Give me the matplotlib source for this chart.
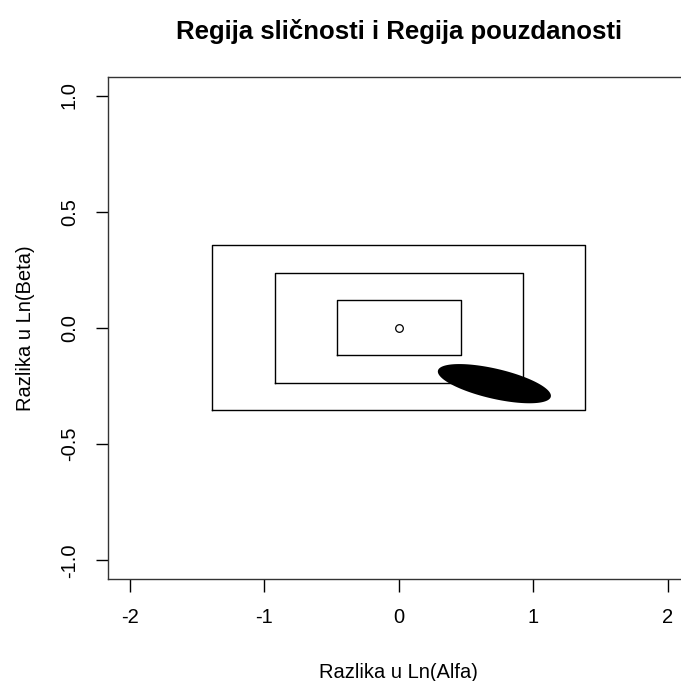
import numpy as np
import matplotlib
matplotlib.use("Agg")
import matplotlib.pyplot as plt

plt.rcParams["font.family"] = ["Liberation Sans", "DejaVu Sans"]

# rectangle half-widths (Ln(Alfa)) and half-heights (Ln(Beta))
rect_dx = [0.462, 0.923, 1.386]
rect_dy = [0.118, 0.236, 0.355]

# confidence ellipse: center, sd and correlation
ell_cx, ell_cy = 0.710, -0.240
ell_sx, ell_sy = 0.420, 0.0844
ell_r = -0.62

xticks = [-2, -1, 0, 1, 2]
yticks = [-1.0, -0.5, 0.0, 0.5, 1.0]
ytick_labels = ["-1.0", "-0.5", "0.0", "0.5", "1.0"]

fig = plt.figure(figsize=(6.81, 6.81), dpi=100)
ax = fig.add_axes([0.1586, 0.150, 0.854, 0.737])

for dx, dy in zip(rect_dx, rect_dy):
    ax.plot([-dx, dx, dx, -dx, -dx], [-dy, -dy, dy, dy, -dy], color="black", lw=1.0)

t = np.linspace(0, 2 * np.pi, 200)
ex = ell_cx + ell_sx * np.cos(t)
ey = ell_cy + ell_sy * (ell_r * np.cos(t) + np.sqrt(1 - ell_r ** 2) * np.sin(t))
ax.fill(ex, ey, color="black", lw=0)

ax.plot([0], [0], marker="o", markersize=5.5, markerfacecolor="none",
        markeredgecolor="black", markeredgewidth=0.9)

ax.set_xlim(-2.16, 2.16)
ax.set_ylim(-1.08, 1.08)
ax.set_xticks(xticks)
ax.set_xticklabels([str(v) for v in xticks])
ax.set_yticks(yticks)
ax.set_yticklabels(ytick_labels, rotation=90, va="center")
ax.tick_params(direction="out", length=9, width=1, labelsize=14.5, pad=12)
for s in ax.spines.values():
    s.set_linewidth(1.0)
    s.set_color("#333333")

ax.set_xlabel("Razlika u Ln(Alfa)", fontsize=14.5, labelpad=26)
ax.set_ylabel("Razlika u Ln(Beta)", fontsize=14.5, labelpad=18)
ax.set_title("Regija sličnosti i Regija pouzdanosti", fontsize=18.5,
             fontweight="bold", pad=27)

fig.savefig("out.png", dpi=100)
